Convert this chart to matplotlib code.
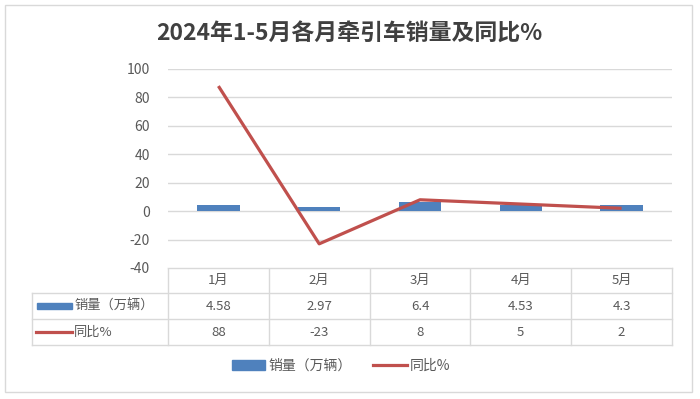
"""2024年1-5月各月牵引车销量及同比% —— 柱线组合图 + 底部数据表。"""

import matplotlib

matplotlib.use("Agg")
import matplotlib.pyplot as plt
from matplotlib.patches import Rectangle
from matplotlib.lines import Line2D

plt.rcParams["font.family"] = ["Noto Sans CJK SC", "DejaVu Sans"]

months = ["1月", "2月", "3月", "4月", "5月"]
sales = [4.58, 2.97, 6.4, 4.53, 4.3]  # 万辆
yoy = [88, -23, 8, 5, 2]  # 同比%
sales_labels = ["4.58", "2.97", "6.4", "4.53", "4.3"]
yoy_labels = ["88", "-23", "8", "5", "2"]
yticks = [-40, -20, 0, 20, 40, 60, 80, 100]

BLUE = "#4F81BD"
RED = "#C0504D"
GRID = "#D9D9D9"
TXT = "#595959"

W, H = 700, 399
# 绘图区与表格的像素布局
X0, X1 = 168, 672
Y_TOP, Y_BOT = 69, 268
ROWS = [268, 293, 319, 345]
LABEL_X = 32
FS = 9.5

fig = plt.figure(figsize=(W / 100, H / 100), dpi=100)

# 外框
bg = fig.add_axes([0, 0, 1, 1])
bg.set_xlim(0, W)
bg.set_ylim(H, 0)
bg.axis("off")
bg.add_patch(Rectangle((5, 5), 687, 387, fill=False, edgecolor="#D9D9D9", lw=1))

ax = fig.add_axes([X0 / W, 1 - Y_BOT / H, (X1 - X0) / W, (Y_BOT - Y_TOP) / H])
x = list(range(len(months)))
ax.bar(x, sales, width=0.42, color=BLUE, zorder=2)
ax.plot(x, yoy, color=RED, lw=2.3, zorder=3, solid_capstyle="butt")
ax.set_xlim(-0.5, len(months) - 0.5)
ax.set_ylim(-40, 100)
ax.set_yticks(yticks)
ax.set_yticklabels([str(t) for t in yticks], fontsize=10, color=TXT)
ax.tick_params(axis="y", length=0, pad=13)
ax.set_xticks([])
ax.grid(axis="y", color=GRID, lw=1)
ax.set_axisbelow(True)
for s in ax.spines.values():
    s.set_visible(False)

# 数据表
col_w = (X1 - X0) / len(months)
tab = bg
for y in ROWS[1:]:
    tab.plot([LABEL_X, X1], [y, y], color=GRID, lw=1)
tab.plot([X0, X1], [ROWS[0], ROWS[0]], color=GRID, lw=1)
tab.plot([LABEL_X, LABEL_X], [ROWS[1], ROWS[3]], color=GRID, lw=1)
for i in range(len(months) + 1):
    xx = X0 + i * col_w
    tab.plot([xx, xx], [ROWS[0], ROWS[3]], color=GRID, lw=1)

for i in range(len(months)):
    cx = X0 + (i + 0.5) * col_w
    for r, vals in enumerate([months, sales_labels, yoy_labels]):
        cy = (ROWS[r] + ROWS[r + 1]) / 2
        tab.text(cx, cy, vals[i], ha="center", va="center", fontsize=FS, color=TXT)

cy = (ROWS[1] + ROWS[2]) / 2
tab.add_patch(Rectangle((37, cy - 3), 35, 6, color=BLUE))
tab.text(74, cy, "销量（万辆）", ha="left", va="center", fontsize=FS, color=TXT)
cy = (ROWS[2] + ROWS[3]) / 2
tab.plot([36, 72], [cy, cy], color=RED, lw=2.3)
tab.text(74, cy, "同比%", ha="left", va="center", fontsize=FS, color=TXT)

# 图例
handles = [
    Rectangle((0, 0), 1, 1, color=BLUE),
    Line2D([0], [0], color=RED, lw=2.3),
]
fig.legend(
    handles,
    ["销量（万辆）", "同比%"],
    loc="center",
    bbox_to_anchor=(341 / W, 1 - 366 / H),
    ncol=2,
    frameon=False,
    fontsize=10,
    labelcolor=TXT,
    handlelength=2.4,
    handleheight=0.7,
    handletextpad=0.2,
    columnspacing=1.6,
)

fig.text(349 / W, 1 - 34 / H, "2024年1-5月各月牵引车销量及同比%", ha="center",
         va="center", fontsize=16.5, fontweight="bold", color="#404040")

fig.savefig("out.png", dpi=100)
